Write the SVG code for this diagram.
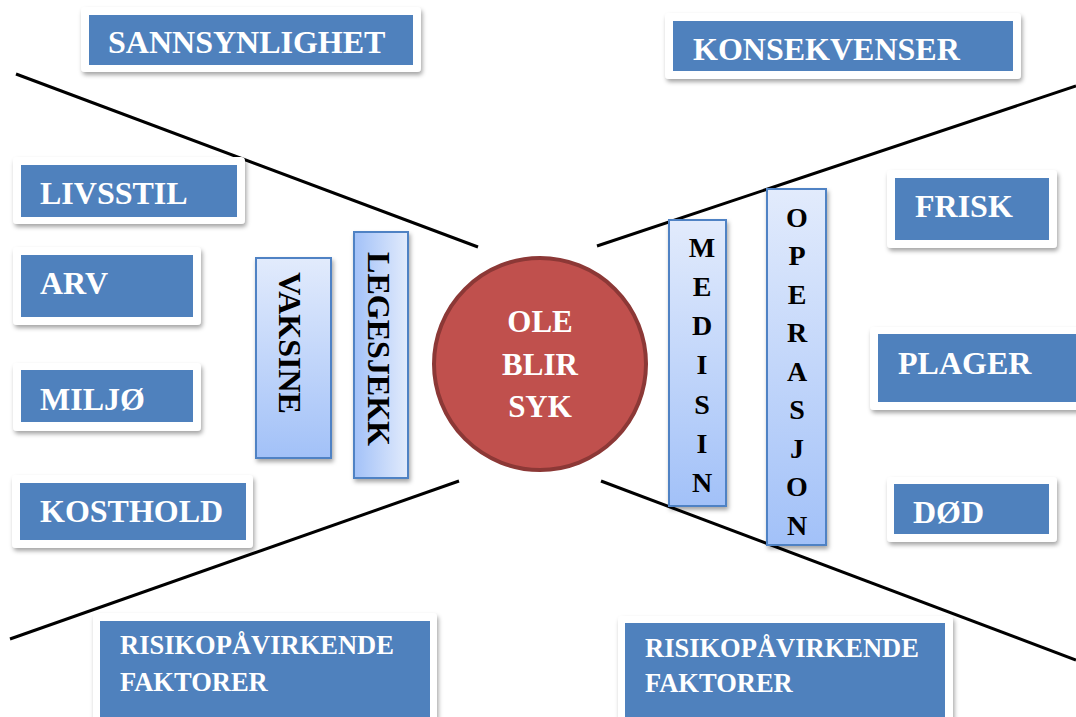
<svg xmlns="http://www.w3.org/2000/svg" width="1076" height="717" viewBox="0 0 1076 717">
<defs>
  <filter id="sh" x="-10%" y="-10%" width="130%" height="140%">
    <feDropShadow dx="1.5" dy="3" stdDeviation="2" flood-color="#000" flood-opacity="0.35"/>
  </filter>
  <linearGradient id="gv" x1="0" y1="0" x2="0" y2="1">
    <stop offset="0" stop-color="#e2ebfc"/>
    <stop offset="1" stop-color="#a2c1f8"/>
  </linearGradient>
  <linearGradient id="gh" x1="0" y1="0" x2="1" y2="0">
    <stop offset="0" stop-color="#a2c1f8"/>
    <stop offset="1" stop-color="#e2ebfc"/>
  </linearGradient>
  <style>
    .frame{fill:#fff;filter:url(#sh)}
    .blue{fill:#4f81bd}
    .lbl{font-family:"Liberation Serif","Times New Roman",serif;font-weight:bold;fill:#fff;font-size:32px}
    .lbl2{font-family:"Liberation Serif","Times New Roman",serif;font-weight:bold;fill:#fff;font-size:26.5px}
    .vbox{stroke:#5082c4;stroke-width:2;filter:url(#sh)}
    .vt{font-family:"Liberation Serif","Times New Roman",serif;font-weight:bold;fill:#000;font-size:32px}
    .vl{font-family:"Liberation Serif","Times New Roman",serif;font-weight:bold;fill:#000;font-size:28px;text-anchor:middle}
    .ln{stroke:#000;stroke-width:3;fill:none}
    .ct{font-family:"Liberation Serif","Times New Roman",serif;font-weight:bold;fill:#fff;font-size:31px;text-anchor:middle}
  </style>
</defs>
<rect width="1076" height="717" fill="#fff"/>

<g id="connectors">
  <line class="ln" x1="16" y1="74" x2="478" y2="247"/>
  <line class="ln" x1="597" y1="246" x2="1076" y2="86"/>
  <line class="ln" x1="10" y1="639" x2="459" y2="481"/>
  <line class="ln" x1="601" y1="481" x2="1076" y2="660"/>
</g>

<g id="sannsynlighet">
  <rect class="frame" x="81" y="7" width="340" height="65" rx="4"/>
  <rect class="blue" x="89" y="15" width="324" height="50"/>
  <text class="lbl" x="108" y="53">SANNSYNLIGHET</text>
</g>
<g id="konsekvenser">
  <rect class="frame" x="665" y="13" width="356" height="66" rx="4"/>
  <rect class="blue" x="673" y="21" width="340" height="50"/>
  <text class="lbl" x="693" y="60">KONSEKVENSER</text>
</g>
<g id="livsstil">
  <rect class="frame" x="13" y="157" width="232" height="67" rx="4"/>
  <rect class="blue" x="21" y="165" width="216" height="52"/>
  <text class="lbl" x="40" y="204">LIVSSTIL</text>
</g>
<g id="arv">
  <rect class="frame" x="13" y="247" width="188" height="78" rx="4"/>
  <rect class="blue" x="21" y="255" width="172" height="62"/>
  <text class="lbl" x="40" y="294">ARV</text>
</g>
<g id="miljo">
  <rect class="frame" x="13" y="363" width="188" height="68" rx="4"/>
  <rect class="blue" x="21" y="370" width="172" height="52"/>
  <text class="lbl" x="40" y="410">MILJØ</text>
</g>
<g id="kosthold">
  <rect class="frame" x="12" y="475" width="241" height="73" rx="4"/>
  <rect class="blue" x="20" y="483" width="226" height="57"/>
  <text class="lbl" x="40" y="522">KOSTHOLD</text>
</g>
<g id="risiko-left">
  <rect class="frame" x="93" y="613" width="344" height="112" rx="4"/>
  <rect class="blue" x="100" y="621" width="330" height="100"/>
  <text class="lbl2" x="120" y="654">RISIKOPÅVIRKENDE</text>
  <text class="lbl2" x="120" y="691">FAKTORER</text>
</g>
<g id="risiko-right">
  <rect class="frame" x="618" y="616" width="335" height="112" rx="4"/>
  <rect class="blue" x="625" y="623" width="320" height="100"/>
  <text class="lbl2" x="645" y="657">RISIKOPÅVIRKENDE</text>
  <text class="lbl2" x="645" y="692">FAKTORER</text>
</g>
<g id="frisk">
  <rect class="frame" x="887" y="170" width="170" height="78" rx="4"/>
  <rect class="blue" x="895" y="178" width="154" height="62"/>
  <text class="lbl" x="915" y="217">FRISK</text>
</g>
<g id="plager">
  <rect class="frame" x="870" y="327" width="220" height="83" rx="4"/>
  <rect class="blue" x="878" y="334" width="210" height="68"/>
  <text class="lbl" x="898" y="374">PLAGER</text>
</g>
<g id="dod">
  <rect class="frame" x="887" y="477" width="170" height="65" rx="4"/>
  <rect class="blue" x="894" y="484" width="155" height="50"/>
  <text class="lbl" x="913" y="523">DØD</text>
</g>

<g id="vaksine">
  <rect class="vbox" x="256" y="258" width="75" height="200" fill="url(#gv)"/>
  <text class="vt" text-anchor="middle" transform="translate(279,343) rotate(90)">VAKSINE</text>
</g>
<g id="legesjekk">
  <rect class="vbox" x="354" y="232" width="54" height="246" fill="url(#gh)"/>
  <text class="vt" text-anchor="middle" transform="translate(368,349) rotate(90)">LEGESJEKK</text>
</g>

<g id="ole-blir-syk">
  <circle cx="540" cy="364" r="106" fill="#c0504d" stroke="#8c3836" stroke-width="4"/>
  <text class="ct" x="540" y="332">OLE</text>
  <text class="ct" x="540" y="375">BLIR</text>
  <text class="ct" x="540" y="417">SYK</text>
</g>

<g id="medisin">
  <rect class="vbox" x="669" y="220" width="57" height="286" fill="url(#gv)"/>
  <text class="vl" x="702" y="257">M</text>
  <text class="vl" x="702" y="296">E</text>
  <text class="vl" x="702" y="335">D</text>
  <text class="vl" x="702" y="374">I</text>
  <text class="vl" x="702" y="414">S</text>
  <text class="vl" x="702" y="453">I</text>
  <text class="vl" x="702" y="492">N</text>
</g>
<g id="operasjon">
  <rect class="vbox" x="767" y="189" width="59" height="356" fill="url(#gv)"/>
  <text class="vl" x="797" y="227">O</text>
  <text class="vl" x="797" y="265">P</text>
  <text class="vl" x="797" y="304">E</text>
  <text class="vl" x="797" y="342">R</text>
  <text class="vl" x="797" y="381">A</text>
  <text class="vl" x="797" y="419">S</text>
  <text class="vl" x="797" y="458">J</text>
  <text class="vl" x="797" y="496">O</text>
  <text class="vl" x="797" y="535">N</text>
</g>
</svg>
